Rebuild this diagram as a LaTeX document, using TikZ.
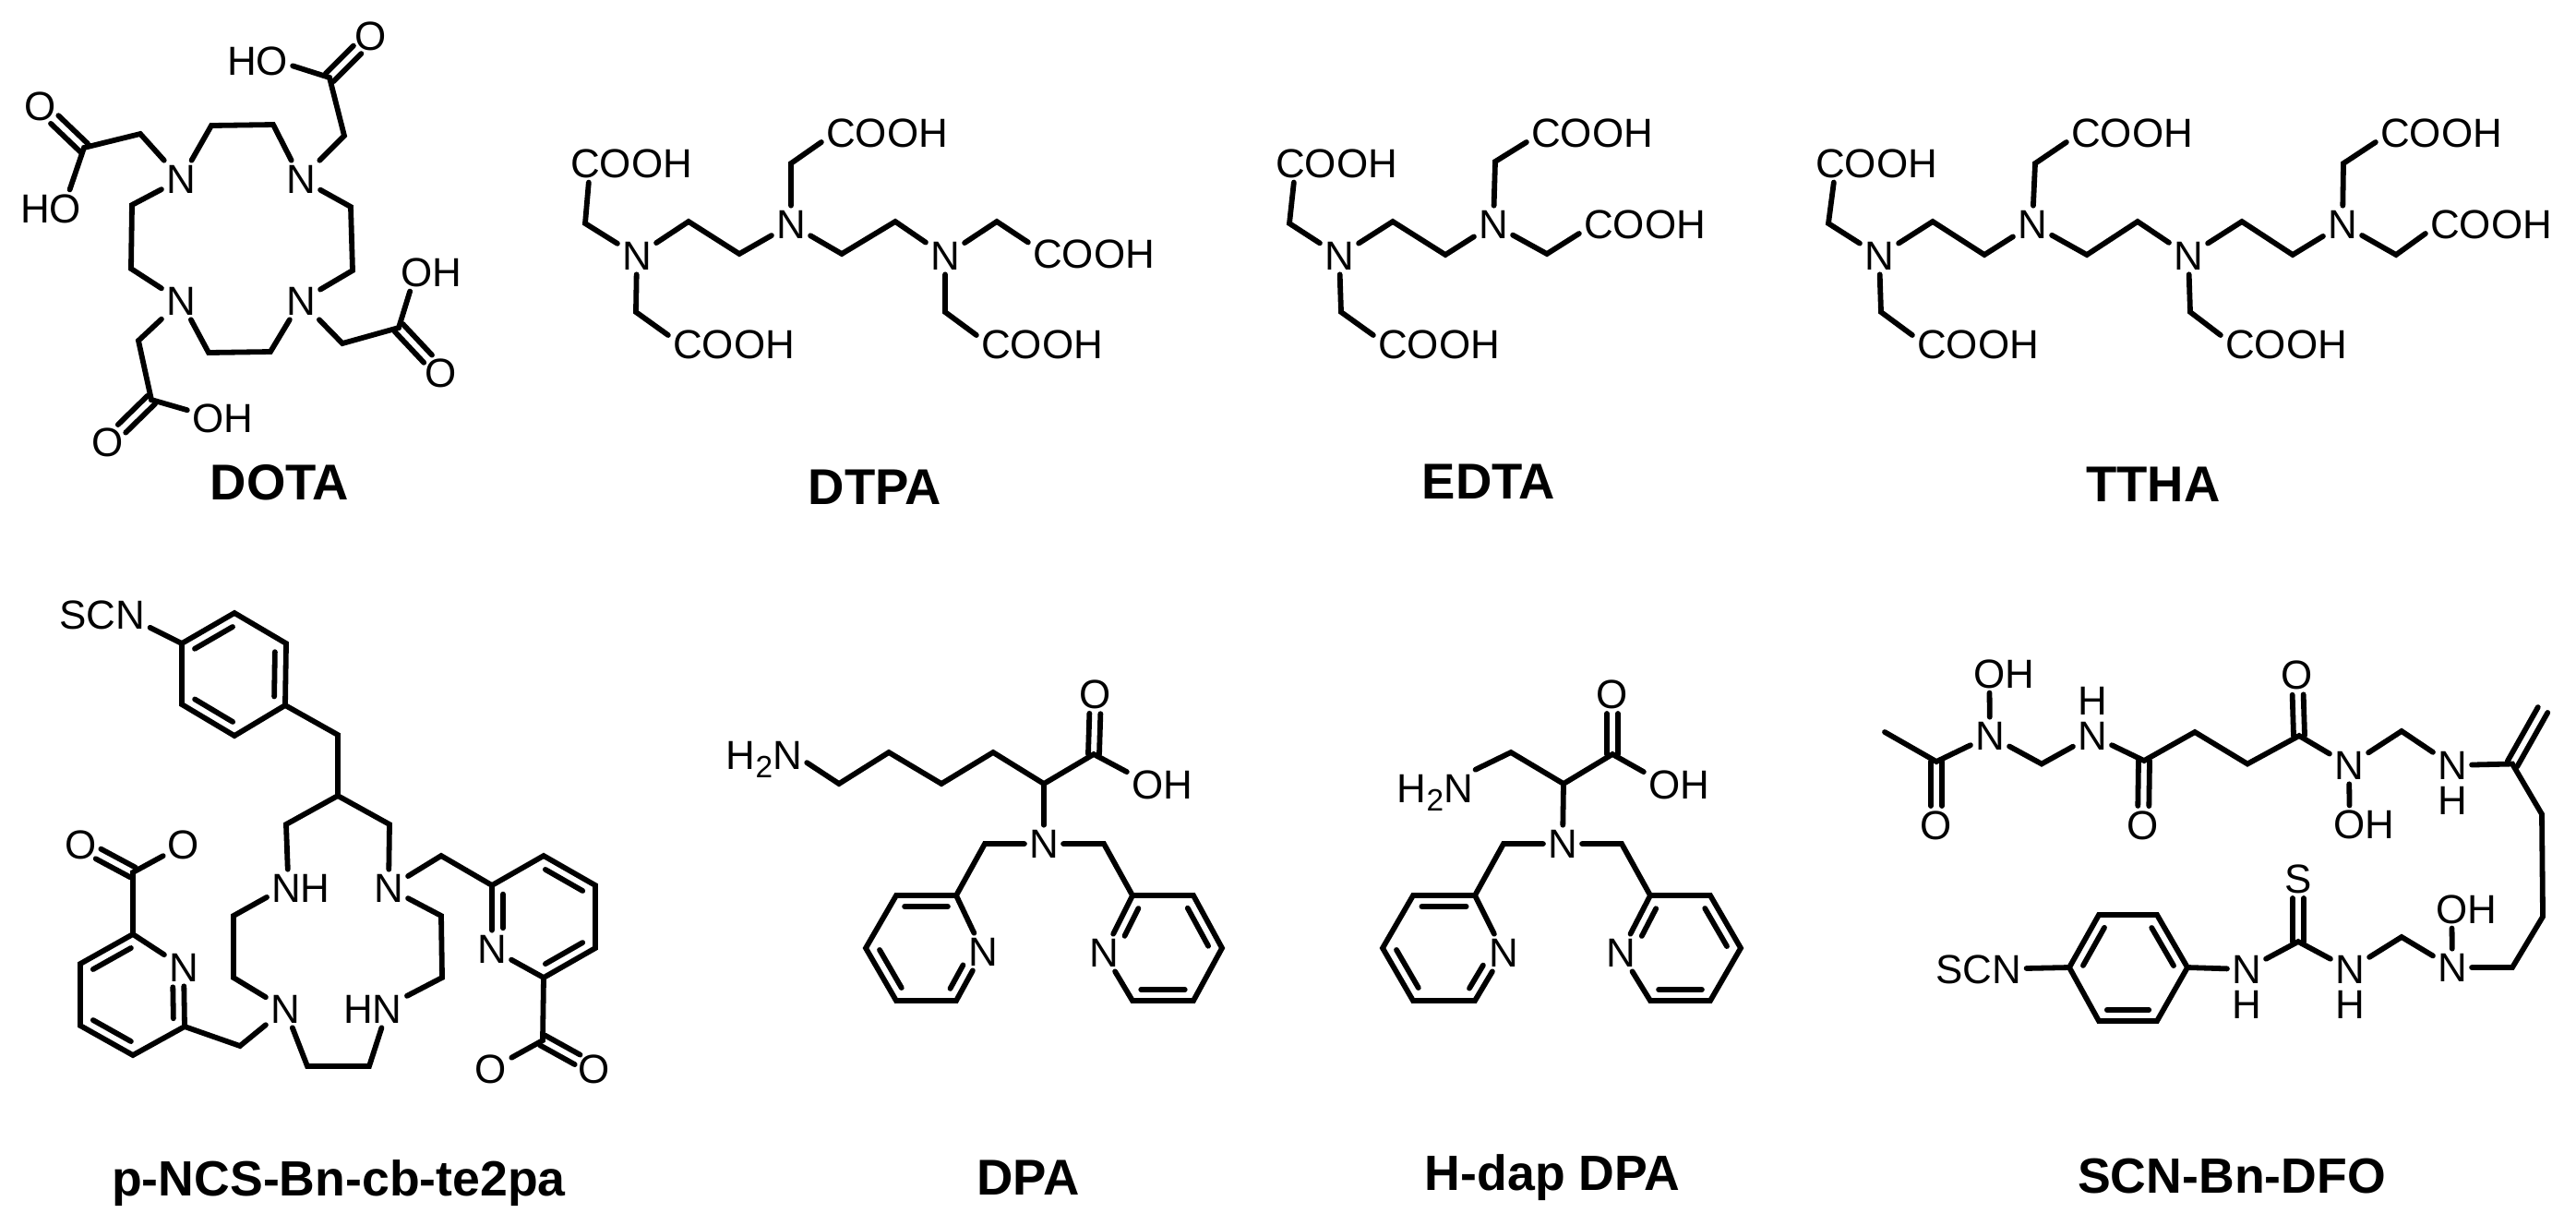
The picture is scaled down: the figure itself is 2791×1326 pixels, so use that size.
\documentclass[tikz,border=0pt]{standalone}
\usepackage{fontspec}
\setmainfont{Liberation Sans}
\usepackage{tikz}
\usetikzlibrary{calc}
\tikzset{
  bond/.style={line width=0.058cm, line cap=round, line join=miter, draw=black},
  atom/.style={font=\fontsize{12.5}{14}\selectfont, inner sep=0.045cm, text depth=0pt},
  hatom/.style={atom, inner sep=0pt},
  molname/.style={font=\fontsize{15.5}{18}\selectfont\bfseries, inner sep=0pt},
  molwide/.style={font=\fontsize{15.25}{18}\selectfont\bfseries, inner sep=0pt}
}
% subscript two of the amine labels
\newcommand{\subtwo}{\raisebox{-0.09cm}{\fontsize{9.5}{10}\selectfont 2}}
% C=O style double bond, straddling the line from #2 to #3, stopping #1 short of #3
\newcommand{\dbl}[3][0.21cm]{
  \coordinate (tmp) at ($(#3)!#1!(#2)$);
  \draw[bond] ($(#2)!0.06cm!90:(tmp)$) -- ($(tmp)!0.06cm!-90:(#2)$);
  \draw[bond] ($(#2)!0.06cm!-90:(tmp)$) -- ($(tmp)!0.06cm!90:(#2)$);
}
% inner line of a ring double bond, #2 to #3 clockwise round the ring
\newcommand{\inbond}[3][.14]{
  \draw[bond] ($(#2)!#1!(#3)!0.12cm!-90:(#3)$) -- ($(#3)!.14!(#2)!0.12cm!90:(#2)$);
}

\begin{document}
\begin{tikzpicture}[x=0.01cm,y=-0.01cm]
  \useasboundingbox (0,0) rectangle (2791,1326);

  % DOTA
  \begin{scope}[name prefix=dota-]
    \node[atom] (n1) at (196,194) {N};
    \node[atom] (n2) at (326,194) {N};
    \node[atom] (n3) at (196,326) {N};
    \node[atom] (n4) at (326,326) {N};
    \coordinate (r1) at (229,136); \coordinate (r2) at (296,135);
    \coordinate (r3) at (380,224); \coordinate (r4) at (382,293);
    \coordinate (r5) at (293,381); \coordinate (r6) at (226,382);
    \coordinate (r7) at (142,291); \coordinate (r8) at (143,222);
    \draw[bond] (n1)--(r1)--(r2)--(n2)--(r3)--(r4)--(n4)--(r5)--(r6)--(n3)--(r7)--(r8)--(n1);

    \node[atom] (oa) at (402,39) {O};
    \node[atom] (hoa) at (279,66) {HO};
    \coordinate (ca) at (373,147); \coordinate (cb) at (357,84);
    \draw[bond] (n2)--(ca)--(cb)--(hoa.-8);
    \dbl{cb}{oa}

    \node[atom] (ob) at (44,115) {O};
    \node[atom] (hob) at (55,226) {HO};
    \coordinate (cc) at (152,145); \coordinate (cd) at (91,160);
    \draw[bond] (n1)--(cc)--(cd)--(hob.45);
    \dbl{cd}{ob}

    \node[atom] (oc) at (117,479) {O};
    \node[atom] (hoc) at (241,453) {OH};
    \coordinate (ce) at (150,369); \coordinate (cf) at (164,433);
    \draw[bond] (n3)--(ce)--(cf)--(hoc.167);
    \dbl{cf}{oc}

    \node[atom] (od) at (478,404) {O};
    \node[atom] (hod) at (467,295) {OH};
    \coordinate (cg) at (371,372); \coordinate (ch) at (432,355);
    \draw[bond] (n4)--(cg)--(ch)--(hod.222);
    \dbl{ch}{od}

    \node[molname] (name) at (303,523) {DOTA};
  \end{scope}

  % DTPA
  \begin{scope}[name prefix=dtpa-]
    \node[atom] (n1) at (690,277) {N};
    \node[atom] (n2) at (857,243) {N};
    \node[atom] (n3) at (1024,277) {N};
    \node[atom] (ca) at (684,177) {COOH};
    \node[atom] (cb) at (961,144) {COOH};
    \node[atom] (cc) at (1185,275) {COOH};
    \node[atom] (cd) at (1129,373) {COOH};
    \node[atom] (ce) at (795,373) {COOH};
    \coordinate (a) at (746,240); \coordinate (b) at (801,275);
    \coordinate (c) at (912,275); \coordinate (d) at (970,240);
    \draw[bond] (n1)--(a)--(b)--(n2)--(c)--(d)--(n3);
    \draw[bond] (n1)--(634,242)--(ca.204);
    \draw[bond] (n2)--(857,177)--(cb.188);
    \draw[bond] (n3)--(1080,240)--(cc.170);
    \draw[bond] (n3)--(1024,338)--(cd.172);
    \draw[bond] (n1)--(689,338)--(ce.172);
    \node[molname] (name) at (948,528) {DTPA};
  \end{scope}

  % EDTA
  \begin{scope}[name prefix=edta-]
    \node[atom] (n1) at (1451,277) {N};
    \node[atom] (n2) at (1618,243) {N};
    \node[atom] (ca) at (1448,177) {COOH};
    \node[atom] (cb) at (1725,144) {COOH};
    \node[atom] (cc) at (1782,243) {COOH};
    \node[atom] (cd) at (1559,373) {COOH};
    \coordinate (a) at (1509,240); \coordinate (b) at (1566,276);
    \draw[bond] (n1)--(a)--(b)--(n2);
    \draw[bond] (n1)--(1397,242)--(ca.204);
    \draw[bond] (n2)--(1620,175)--(cb.188);
    \draw[bond] (n2)--(1676,275)--(cc.188);
    \draw[bond] (n1)--(1453,338)--(cd.172);
    \node[molname] (name) at (1613,522) {EDTA};
  \end{scope}

  % TTHA
  \begin{scope}[name prefix=ttha-]
    \node[atom] (n1) at (2036,277) {N};
    \node[atom] (n2) at (2202,243) {N};
    \node[atom] (n3) at (2371,277) {N};
    \node[atom] (n4) at (2538,243) {N};
    \node[atom] (ca) at (2033,177) {COOH};
    \node[atom] (cb) at (2310,144) {COOH};
    \node[atom] (cc) at (2645,144) {COOH};
    \node[atom] (cd) at (2699,243) {COOH};
    \node[atom] (ce) at (2143,373) {COOH};
    \node[atom] (cf) at (2477,373) {COOH};
    \coordinate (a) at (2094,240); \coordinate (b) at (2150,276);
    \coordinate (c) at (2261,276); \coordinate (d) at (2316,240);
    \coordinate (e) at (2429,240); \coordinate (f) at (2484,276);
    \draw[bond] (n1)--(a)--(b)--(n2)--(c)--(d)--(n3)--(e)--(f)--(n4);
    \draw[bond] (n1)--(1981,242)--(ca.204);
    \draw[bond] (n2)--(2205,177)--(cb.188);
    \draw[bond] (n4)--(2539,177)--(cc.188);
    \draw[bond] (n4)--(2596,276)--(cd.188);
    \draw[bond] (n1)--(2038,338)--(ce.172);
    \draw[bond] (n3)--(2373,338)--(cf.172);
    \node[molname] (name) at (2333,525) {TTHA};
  \end{scope}

  % p-NCS-Bn-cb-te2pa
  \begin{scope}[name prefix=cb-]
    \node[atom] (scn) at (111,666) {SCN};
    \coordinate (b1) at (197,697); \coordinate (b2) at (254,664);
    \coordinate (b3) at (310,697); \coordinate (b4) at (309,764);
    \coordinate (b5) at (254,797); \coordinate (b6) at (197,763);
    \draw[bond] (b1)--(b2)--(b3)--(b4)--(b5)--(b6)--cycle;
    \inbond{b1}{b2} \inbond{b3}{b4} \inbond{b5}{b6}
    \draw[bond] (scn.-15)--(b1);
    \coordinate (c1) at (366,796); \coordinate (c2) at (366,862);
    \coordinate (c3) at (310,893); \coordinate (c4) at (422,893);
    \draw[bond] (b4)--(c1)--(c2);

    \node[atom] (nh) at (326,962) {NH};
    \node[atom] (na) at (421,962) {N};
    \node[atom] (nb) at (309,1093) {N};
    \node[atom] (hn) at (404,1093) {HN};
    \draw[bond] (nh.125)--(c3)--(c2)--(c4)--(na);
    \coordinate (r1) at (253,992); \coordinate (r2) at (253,1059);
    \coordinate (r3) at (333,1155); \coordinate (r4) at (400,1155);
    \coordinate (r5) at (479,1059); \coordinate (r6) at (478,992);
    \draw[bond] (nh.195)--(r1)--(r2)--(nb)--(r3)--(r4)--(hn.-65);
    \draw[bond] (hn.21)--(r5)--(r6)--(na);

    % right pyridine
    \node[atom] (npr) at (533,1028) {N};
    \coordinate (p1) at (533,959); \coordinate (p2) at (589,927);
    \coordinate (p3) at (645,959); \coordinate (p4) at (645,1027);
    \coordinate (p5) at (589,1059); \coordinate (pc) at (478,927);
    \draw[bond] (na)--(pc)--(p1)--(p2)--(p3)--(p4)--(p5)--(npr)--(p1);
    \inbond{p2}{p3} \inbond{p4}{p5} \inbond[.33]{npr}{p1}
    \node[atom] (oa) at (532,1158) {O};
    \node[atom] (ob) at (644,1158) {O};
    \coordinate (ca) at (588,1127);
    \draw[bond] (p5)--(ca)--(oa);
    \dbl{ca}{ob}

    % left pyridine
    \node[atom] (npl) at (199,1048) {N};
    \coordinate (q1) at (200,1112); \coordinate (q2) at (144,1143);
    \coordinate (q3) at (87,1111); \coordinate (q4) at (87,1044);
    \coordinate (q5) at (144,1012); \coordinate (qc) at (260,1133);
    \draw[bond] (nb)--(qc)--(q1)--(q2)--(q3)--(q4)--(q5)--(npl)--(q1);
    \inbond{q2}{q3} \inbond{q4}{q5} \inbond[.33]{npl}{q1}
    \node[atom] (oc) at (88,915) {O};
    \node[atom] (od) at (199,915) {O};
    \coordinate (cb) at (144,945);
    \draw[bond] (q5)--(cb)--(od);
    \dbl{cb}{oc}

    \node[molwide] (name) at (367,1282) {p-NCS-Bn-cb-te2pa};
  \end{scope}

  % DPA
  \begin{scope}[name prefix=dpa-]
    \node[atom] (nh) at (828,818) {H\subtwo N};
    \node[atom] (oa) at (1187,752) {O};
    \node[atom] (oh) at (1259,850) {OH};
    \node[atom] (n) at (1131,914) {N};
    \coordinate (a) at (909,849); \coordinate (b) at (963,815);
    \coordinate (c) at (1020,849); \coordinate (d) at (1076,815);
    \coordinate (e) at (1131,849); \coordinate (f) at (1185,817);
    \draw[bond] (nh.-10)--(a)--(b)--(c)--(d)--(e)--(f)--(oh.160);
    \draw[bond] (e)--(n);
    \dbl{f}{oa}

    \node[atom] (nl) at (1065,1031) {N};
    \coordinate (l0) at (1067,914); \coordinate (l1) at (1036,970);
    \coordinate (l2) at (971,970); \coordinate (l3) at (938,1027);
    \coordinate (l4) at (971,1084); \coordinate (l5) at (1036,1084);
    \draw[bond] (n)--(l0)--(l1)--(l2)--(l3)--(l4)--(l5)--(nl)--(l1);
    \inbond{l2}{l1} \inbond{l4}{l3} \inbond[.38]{nl}{l5}

    \node[atom] (nr) at (1196,1032) {N};
    \coordinate (r0) at (1196,914); \coordinate (r1) at (1227,970);
    \coordinate (r2) at (1293,970); \coordinate (r3) at (1324,1027);
    \coordinate (r4) at (1293,1084); \coordinate (r5) at (1227,1084);
    \draw[bond] (n)--(r0)--(r1)--(r2)--(r3)--(r4)--(r5)--(nr)--(r1);
    \inbond{r2}{r3} \inbond{r4}{r5} \inbond[.38]{nr}{r1}

    \node[molname] (name) at (1114,1276) {DPA};
  \end{scope}

  % H-dap DPA
  \begin{scope}[name prefix=dap-]
    \node[atom] (nh) at (1555,854) {H\subtwo N};
    \node[atom] (oa) at (1747,752) {O};
    \node[atom] (oh) at (1819,850) {OH};
    \node[atom] (n) at (1693,914) {N};
    \coordinate (a) at (1637,815); \coordinate (e) at (1694,849);
    \coordinate (f) at (1747,817);
    \draw[bond] (nh.25)--(a)--(e)--(f)--(oh.160);
    \draw[bond] (e)--(n);
    \dbl{f}{oa}

    \node[atom] (nl) at (1629,1032) {N};
    \coordinate (l0) at (1629,914); \coordinate (l1) at (1598,970);
    \coordinate (l2) at (1531,970); \coordinate (l3) at (1498,1027);
    \coordinate (l4) at (1531,1084); \coordinate (l5) at (1598,1084);
    \draw[bond] (n)--(l0)--(l1)--(l2)--(l3)--(l4)--(l5)--(nl)--(l1);
    \inbond{l2}{l1} \inbond{l4}{l3} \inbond[.38]{nl}{l5}

    \node[atom] (nr) at (1756,1032) {N};
    \coordinate (r0) at (1757,914); \coordinate (r1) at (1788,970);
    \coordinate (r2) at (1853,970); \coordinate (r3) at (1886,1027);
    \coordinate (r4) at (1853,1084); \coordinate (r5) at (1788,1084);
    \draw[bond] (n)--(r0)--(r1)--(r2)--(r3)--(r4)--(r5)--(nr)--(r1);
    \inbond{r2}{r3} \inbond{r4}{r5} \inbond[.38]{nr}{r1}

    \node[molwide] (name) at (1682,1276) {H-dap DPA};
  \end{scope}

  % SCN-Bn-DFO
  \begin{scope}[name prefix=dfo-]
    \coordinate (me) at (2042,793); \coordinate (c1) at (2098,825);
    \node[atom] (o1) at (2098,894) {O};
    \node[atom] (n1) at (2156,797) {N};
    \node[atom] (oh1) at (2171,730) {OH};
    \coordinate (c2) at (2212,827.5);
    \node[atom] (n2) at (2267,797) {N};
    \node[hatom] (h2) at (2267,759) {H};
    \coordinate (c3) at (2323,824);
    \node[atom] (o3) at (2322,894) {O};
    \coordinate (c4) at (2378,793); \coordinate (c5) at (2435,827.5);
    \coordinate (c6) at (2491,797);
    \node[atom] (o6) at (2489,731.5) {O};
    \node[atom] (n3) at (2545,829) {N};
    \node[atom] (oh3) at (2561,893) {OH};
    \coordinate (c7) at (2602,792);
    \node[atom] (n4) at (2657,829) {N};
    \node[hatom] (h4) at (2657,867) {H};
    \coordinate (c8) at (2722,827.5); \coordinate (c9) at (2755,769);
    \coordinate (c10) at (2754,882); \coordinate (c11) at (2755,993);
    \coordinate (c12) at (2722,1048);
    \node[atom] (n5) at (2657,1048) {N};
    \node[atom] (oh5) at (2672,985) {OH};
    \coordinate (c13) at (2602,1015);
    \node[atom] (n6) at (2546,1050) {N};
    \node[hatom] (h6) at (2546,1088) {H};
    \coordinate (c14) at (2490,1020);
    \node[atom] (s) at (2490,952) {S};
    \node[atom] (n7) at (2434,1050) {N};
    \node[hatom] (h7) at (2434,1088) {H};
    \coordinate (b1) at (2370,1048); \coordinate (b2) at (2337,991);
    \coordinate (b3) at (2274,991); \coordinate (b4) at (2242,1048);
    \coordinate (b5) at (2274,1106); \coordinate (b6) at (2337,1106);
    \node[atom] (scn) at (2144,1050) {SCN};

    \draw[bond] (me)--(c1)--(n1)--(c2)--(n2)--(c3)--(c4)--(c5)--(c6)--(n3)--(c7)--(n4)--(c8)--(c10)--(c11)--(c12)--(n5)--(c13)--(n6)--(c14)--(n7)--(b1);
    \draw[bond] (n1)--(oh1.233);
    \draw[bond] (n3)--(oh3.127);
    \draw[bond] (n5)--(oh5.233);
    \dbl{c1}{o1} \dbl{c3}{o3} \dbl{c6}{o6} \dbl{c14}{s}
    \dbl[0cm]{c8}{c9}
    \draw[bond] (b1)--(b2)--(b3)--(b4)--(b5)--(b6)--cycle;
    \inbond{b2}{b1} \inbond{b6}{b5} \inbond{b4}{b3}
    \draw[bond] (scn)--(b4);

    \node[molwide] (name) at (2418,1274) {SCN-Bn-DFO};
  \end{scope}
\end{tikzpicture}
\end{document}
